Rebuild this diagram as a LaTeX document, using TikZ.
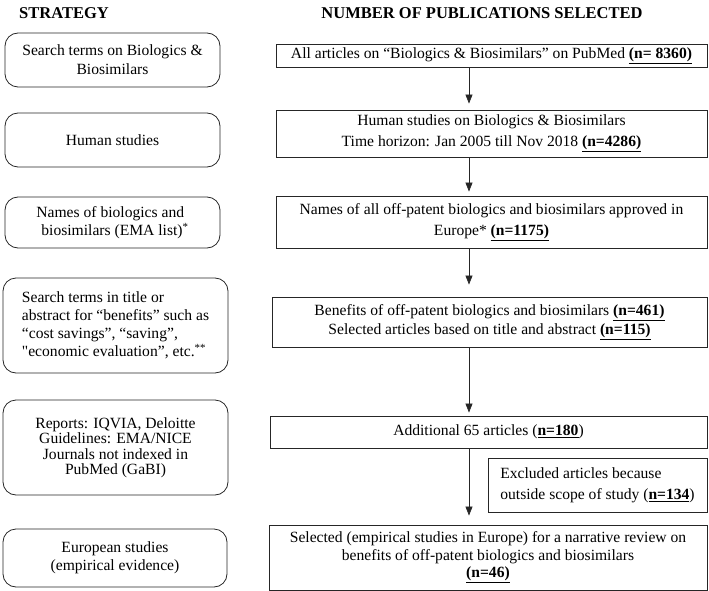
\documentclass[tikz,border=0pt]{standalone}
\usepackage{fontspec}
\setmainfont{Liberation Serif}
\usetikzlibrary{arrows.meta}

\tikzset{
	lsk/.style={font=\fontsize{15.6}{#1}\selectfont},
	strat/.style={draw=black!85, line width=0.8pt, rounded corners=13pt, inner sep=0pt,
		align=center, lsk=18},
	pubbox/.style={draw=black!85, line width=0.9pt, inner sep=0pt,
		align=center, lsk=18},
	flow/.style={draw=black!85, line width=0.7pt, shorten >=4pt,
		-{Triangle[width=7pt,length=9pt]}},
	head/.style={font=\fontsize{16.5}{20}\selectfont\bfseries}
}
\newcommand{\nsel}[1]{\underline{\textbf{#1}}}
\newcommand{\straightq}{\XeTeXglyph\XeTeXcharglyph"22\relax}

\begin{document}
\begin{tikzpicture}[x=1pt,y=-1pt]
	\useasboundingbox (0,0) rectangle (709,591);
	% headers
	\node[head] (hstrat) at (64,13) {STRATEGY};
	\node[head] (hnum) at (482,13) {NUMBER OF PUBLICATIONS SELECTED};
	% strategy column
	\node[strat, lsk=19, minimum width=215, minimum height=54] (s1) at (112.5,60) {Search terms on Biologics \&\\Biosimilars};
	\node[strat, minimum width=215, minimum height=54] (s2) at (112.5,140) {Human studies};
	\node[strat, minimum width=215, minimum height=51, align=left] (s3) at (112.5,222.5) {Names of biologics and\\\hspace*{5pt}biosimilars (EMA list)\textsuperscript{*}};
	\node[strat, minimum width=225, minimum height=95, align=left] (s4) at (115.5,325.5) {Search terms in title or\\abstract for “benefits” such as\\“cost savings”, “saving”,\\\straightq economic evaluation”, etc.\textsuperscript{**}};
	\node[strat, lsk=15.5, minimum width=225, minimum height=95] (s5) at (115.5,447.5) {Reports: IQVIA, Deloitte\\Guidelines: EMA/NICE\\Journals not indexed in\\PubMed (GaBI)};
	\node[strat, minimum width=224, minimum height=58] (s6) at (115,558) {European studies\\(empirical evidence)};
	% publications column
	\node[pubbox, minimum width=431, minimum height=23] (p1) at (491.5,55.5) {All articles on “Biologics \& Biosimilars” on PubMed \nsel{(n= 8360)}};
	\node[pubbox, lsk=21, minimum width=431, minimum height=47] (p2) at (491.5,133.5) {Human studies on Biologics \& Biosimilars\\Time horizon: Jan 2005 till Nov 2018 \nsel{(n=4286)}};
	\node[pubbox, lsk=21, minimum width=431, minimum height=52] (p3) at (491.5,222) {Names of all off-patent biologics and biosimilars approved in\\Europe* \nsel{(n=1175)}};
	\node[pubbox, lsk=19, minimum width=435, minimum height=50] (p4) at (489.5,322) {Benefits of off-patent biologics and biosimilars \nsel{(n=461)}\\Selected articles based on title and abstract \nsel{(n=115)}};
	\node[pubbox, minimum width=437, minimum height=32] (p5) at (488.5,432) {Additional 65 articles (\nsel{n=180})};
	\node[pubbox, lsk=21, minimum width=219, minimum height=54, align=left] (excl) at (597.5,485) {Excluded articles because\\outside scope of study (\nsel{n=134})};
	\node[pubbox, lsk=17.5, minimum width=438, minimum height=65] (p6) at (488,557.5) {Selected (empirical studies in Europe) for a narrative review on\\benefits of off-patent biologics and biosimilars\\\nsel{(n=46)}};
	% arrows
	\coordinate (ax) at (469,0);
	\draw[flow, shorten >=6pt] (p1.south -| ax) -- (p2.north -| ax);
	\draw[flow] (p2.south -| ax) -- (p3.north -| ax);
	\draw[flow, shorten >=12pt] (p3.south -| ax) -- (p4.north -| ax);
	\draw[flow, shorten >=3pt] (p4.south -| ax) -- (p5.north -| ax);
	\draw[flow, shorten >=9pt] (p5.south -| ax) -- (p6.north -| ax);
\end{tikzpicture}
\end{document}
